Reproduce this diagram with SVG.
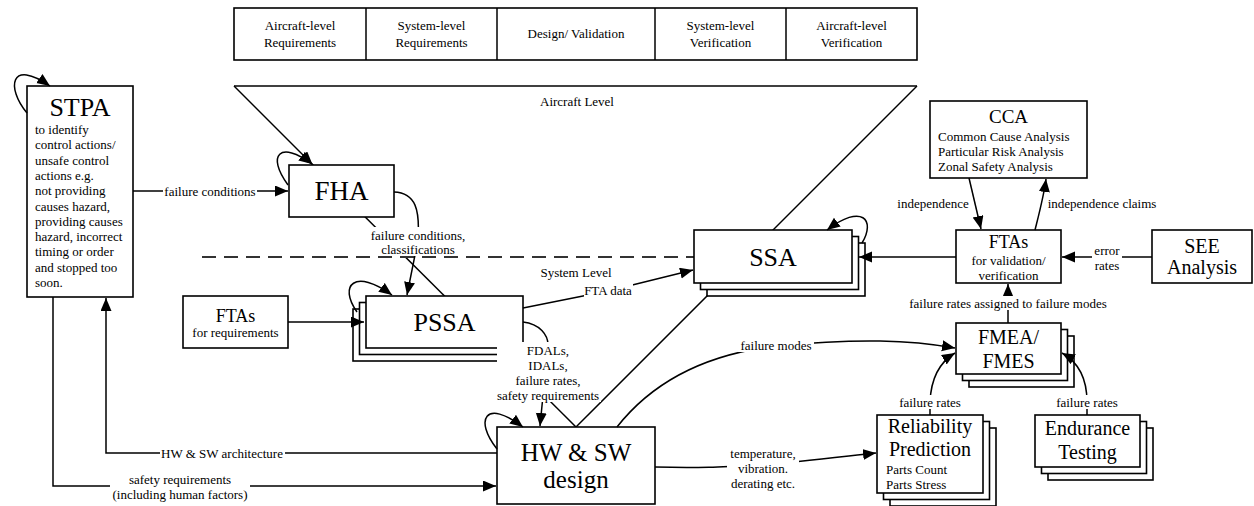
<svg xmlns="http://www.w3.org/2000/svg" width="1254" height="506" viewBox="0 0 1254 506" font-family="'Liberation Serif', 'DejaVu Serif', serif">
  <style>
    text { font-family: "Liberation Serif", "DejaVu Serif", serif; fill: #000; }
    .box { fill: #fff; stroke: #000; stroke-width: 1.6; }
    .edge { fill: none; stroke: #000; stroke-width: 1.5; }
    .frame { fill: none; stroke: #000; stroke-width: 1.5; }
    .dash { fill: none; stroke: #333; stroke-width: 2; stroke-dasharray: 14 8; }
    .bg { fill: #fff; }
    .c { text-anchor: middle; }
    .s13 { font-size: 13px; }
    .s18 { font-size: 18px; }
    .s20 { font-size: 20px; }
    .s25 { font-size: 25px; }
    .s26 { font-size: 26px; }
    .s27 { font-size: 27px; }
  </style>
  <defs>
    <marker id="arrow" markerUnits="userSpaceOnUse" markerWidth="14" markerHeight="12" refX="13" refY="5.5" orient="auto">
      <path d="M0,0 L13,5.5 L0,11 z" fill="#000"/>
    </marker>
  </defs>

  <rect width="1254" height="506" fill="#fff"/>

  <!-- lifecycle phase header -->
  <g id="phases">
    <rect class="box" x="234" y="8" width="683" height="52"/>
    <line class="frame" x1="366" y1="8" x2="366" y2="60"/>
    <line class="frame" x1="497" y1="8" x2="497" y2="60"/>
    <line class="frame" x1="655" y1="8" x2="655" y2="60"/>
    <line class="frame" x1="786" y1="8" x2="786" y2="60"/>
    <text class="c s13" x="300" y="29.5">Aircraft-level</text>
    <text class="c s13" x="300" y="46.5">Requirements</text>
    <text class="c s13" x="431.5" y="29.5">System-level</text>
    <text class="c s13" x="431.5" y="46.5">Requirements</text>
    <text class="c s13" x="576" y="38">Design/ Validation</text>
    <text class="c s13" x="720.5" y="29.5">System-level</text>
    <text class="c s13" x="720.5" y="46.5">Verification</text>
    <text class="c s13" x="851.5" y="29.5">Aircraft-level</text>
    <text class="c s13" x="851.5" y="46.5">Verification</text>
  </g>

  <!-- V-model frame and level boundary -->
  <g id="levels">
    <line class="frame" x1="234" y1="86" x2="917" y2="86"/>
    <path class="frame" d="M234,86 L312.5,164.5" marker-end="url(#arrow)"/>
    <line class="frame" x1="312" y1="164" x2="576" y2="427"/>
    <line class="frame" x1="917" y1="86" x2="576" y2="427"/>
    <line class="dash" x1="202" y1="257" x2="694" y2="257"/>
    <text class="c s13" x="577" y="106">Aircraft Level</text>
    <text class="c s13" x="576" y="277">System Level</text>
  </g>

  <g id="stpa">
    <rect class="box" x="27" y="86" width="106" height="211"/>
    <text class="c s26" x="80" y="116">STPA</text>
    <text class="s13" x="35" y="134">to identify</text>
    <text class="s13" x="35" y="149.3">control actions/</text>
    <text class="s13" x="35" y="164.6">unsafe control</text>
    <text class="s13" x="35" y="179.9">actions e.g.</text>
    <text class="s13" x="35" y="195.2">not providing</text>
    <text class="s13" x="35" y="210.5">causes hazard,</text>
    <text class="s13" x="35" y="225.8">providing causes</text>
    <text class="s13" x="35" y="241.1">hazard, incorrect</text>
    <text class="s13" x="35" y="256.4">timing or order</text>
    <text class="s13" x="35" y="271.7">and stopped too</text>
    <text class="s13" x="35" y="287">soon.</text>
  </g>

  <g id="fha">
    <rect class="box" x="289" y="165" width="105" height="52"/>
    <text class="c s27" x="341.5" y="200">FHA</text>
  </g>

  <g id="ftas-req">
    <rect class="box" x="183" y="296" width="105" height="52"/>
    <text class="c s18" x="235.5" y="322">FTAs</text>
    <text class="c s13" x="235.5" y="337">for requirements</text>
  </g>

  <g id="pssa">
    <rect class="box" x="353" y="309" width="157" height="52"/>
    <rect class="box" x="359.5" y="302.5" width="157" height="52"/>
    <rect class="box" x="366" y="296" width="157" height="52"/>
    <text class="c s26" x="444.5" y="331">PSSA</text>
  </g>

  <g id="ssa">
    <rect class="box" x="707" y="243" width="158" height="53"/>
    <rect class="box" x="700.5" y="236.5" width="158" height="53"/>
    <rect class="box" x="694" y="230" width="158" height="53"/>
    <text class="c s26" x="773" y="266">SSA</text>
  </g>

  <g id="hwsw">
    <rect class="box" x="497" y="427" width="158" height="77"/>
    <text class="c s25" x="576" y="461">HW &amp; SW</text>
    <text class="c s25" x="576" y="488">design</text>
  </g>

  <g id="cca">
    <rect class="box" x="930" y="101" width="157" height="77"/>
    <text class="c" style="font-size:19px" x="1008.5" y="123">CCA</text>
    <text class="s13" x="938" y="141">Common Cause Analysis</text>
    <text class="s13" x="938" y="156">Particular Risk Analysis</text>
    <text class="s13" x="938" y="171">Zonal Safety Analysis</text>
  </g>

  <g id="ftas-vv">
    <rect class="box" x="956" y="230" width="105" height="53"/>
    <text class="c s18" x="1008.5" y="248">FTAs</text>
    <text class="c s13" x="1008.5" y="265">for validation/</text>
    <text class="c s13" x="1008.5" y="280">verification</text>
  </g>

  <g id="see">
    <rect class="box" x="1152" y="230" width="100" height="53"/>
    <text class="c s20" x="1202" y="253">SEE</text>
    <text class="c s20" x="1202" y="274">Analysis</text>
  </g>

  <g id="fmea">
    <rect class="box" x="969" y="336" width="105" height="51"/>
    <rect class="box" x="962.5" y="329.5" width="105" height="51"/>
    <rect class="box" x="956" y="323" width="105" height="51"/>
    <text class="c s20" x="1008.5" y="344">FMEA/</text>
    <text class="c s20" x="1008.5" y="368">FMES</text>
  </g>

  <g id="reliability">
    <rect class="box" x="890" y="428" width="106" height="78"/>
    <rect class="box" x="883.5" y="421.5" width="106" height="78"/>
    <rect class="box" x="877" y="415" width="106" height="78"/>
    <text class="c s20" x="930" y="433">Reliability</text>
    <text class="c s20" x="930" y="456">Prediction</text>
    <text class="s13" x="886" y="474">Parts Count</text>
    <text class="s13" x="886" y="489">Parts Stress</text>
  </g>

  <g id="endurance">
    <rect class="box" x="1048" y="428" width="105" height="52"/>
    <rect class="box" x="1041.5" y="421.5" width="105" height="52"/>
    <rect class="box" x="1035" y="415" width="105" height="52"/>
    <text class="c s20" x="1087.5" y="435">Endurance</text>
    <text class="c s20" x="1087.5" y="459">Testing</text>
  </g>

  <!-- connectors -->
  <g id="connectors">
    <!-- self loops -->
    <path class="edge" d="M27,113 C6,88 10,58 50,86" marker-end="url(#arrow)"/>
    <path class="edge" d="M288,185 C266,155 280,140 312,164" marker-end="url(#arrow)"/>
    <path class="edge" d="M357,312 C338,285 355,268 392,295" marker-end="url(#arrow)"/>
    <path class="edge" d="M862,243 C876,220 862,203 827,230" marker-end="url(#arrow)"/>
    <path class="edge" d="M497,449 C474,420 485,398 523,427" marker-end="url(#arrow)"/>

    <path class="edge" d="M133,191 L288,191" marker-end="url(#arrow)"/>
    <path class="edge" d="M394,192 C416,193 420,210 418,240 L407,295" marker-end="url(#arrow)"/>
    <path class="edge" d="M288,322 L364,322" marker-end="url(#arrow)"/>
    <path class="edge" d="M523,308 L608,291 L693,270" marker-end="url(#arrow)"/>
    <path class="edge" d="M523,322 C540,324 548,335 548,345 L540,426" marker-end="url(#arrow)"/>
    <path class="edge" d="M497,453 L106,453 L106,298" marker-end="url(#arrow)"/>
    <path class="edge" d="M53,297 L53,486 L496,486" marker-end="url(#arrow)"/>
    <path class="edge" d="M617,427 C650,385 700,355 776,346 C860,338 910,340 955,348" marker-end="url(#arrow)"/>
    <path class="edge" d="M655,467 C700,468 720,467 763,465 C800,462 840,457 876,453" marker-end="url(#arrow)"/>
    <path class="edge" d="M930,415 L930,402 C931,378 940,362 955,353" marker-end="url(#arrow)"/>
    <path class="edge" d="M1087,415 L1087,402 C1087,378 1078,362 1062,353" marker-end="url(#arrow)"/>
    <path class="edge" d="M1008,323 L1008,284" marker-end="url(#arrow)"/>
    <path class="edge" d="M956,257 L859,257" marker-end="url(#arrow)"/>
    <path class="edge" d="M1152,257 L1062,257" marker-end="url(#arrow)"/>
    <path class="edge" d="M969,178 L981,229" marker-end="url(#arrow)"/>
    <path class="edge" d="M1035,230 C1040,210 1044,195 1046,179" marker-end="url(#arrow)"/>

    <!-- edge labels -->
    <rect class="bg" x="163" y="184" width="94" height="14"/>
    <text class="c s13" x="210" y="195.5">failure conditions</text>

    <rect class="bg" x="370" y="227" width="96" height="29"/>
    <text class="c s13" x="418" y="239.5">failure conditions,</text>
    <text class="c s13" x="418" y="254">classifications</text>

    <rect class="bg" x="584" y="284" width="49" height="13"/>
    <text class="c s13" x="608" y="294.5">FTA data</text>

    <rect class="bg" x="497" y="342" width="104" height="60"/>
    <text class="c s13" x="548" y="354.5">FDALs,</text>
    <text class="c s13" x="548" y="369.5">IDALs,</text>
    <text class="c s13" x="548" y="384.5">failure rates,</text>
    <text class="c s13" x="548" y="399.5">safety requirements</text>

    <rect class="bg" x="160" y="446" width="125" height="14"/>
    <text class="c s13" x="222" y="457.5">HW &amp; SW architecture</text>

    <rect class="bg" x="110" y="471" width="140" height="30"/>
    <text class="c s13" x="180" y="483.5">safety requirements</text>
    <text class="c s13" x="180" y="498.5">(including human factors)</text>

    <rect class="bg" x="738" y="338" width="76" height="14"/>
    <text class="c s13" x="776" y="349.5">failure modes</text>

    <rect class="bg" x="727" y="445" width="72" height="45"/>
    <text class="c s13" x="763" y="457.5">temperature,</text>
    <text class="c s13" x="763" y="472.5">vibration.</text>
    <text class="c s13" x="763" y="487.5">derating etc.</text>

    <rect class="bg" x="899" y="395" width="62" height="14"/>
    <text class="c s13" x="930" y="406.5">failure rates</text>
    <rect class="bg" x="1056" y="395" width="62" height="14"/>
    <text class="c s13" x="1087" y="406.5">failure rates</text>

    <rect class="bg" x="907" y="296" width="202" height="14"/>
    <text class="c s13" x="1008" y="307.5">failure rates assigned to failure modes</text>

    <rect class="bg" x="898" y="196" width="70" height="14"/>
    <text class="c s13" x="933" y="207.5">independence</text>
    <rect class="bg" x="1046" y="196" width="112" height="14"/>
    <text class="c s13" x="1102" y="207.5">independence claims</text>

    <rect class="bg" x="1092" y="242" width="30" height="30"/>
    <text class="c s13" x="1107" y="254.5">error</text>
    <text class="c s13" x="1107" y="269.5">rates</text>
  </g>
</svg>
